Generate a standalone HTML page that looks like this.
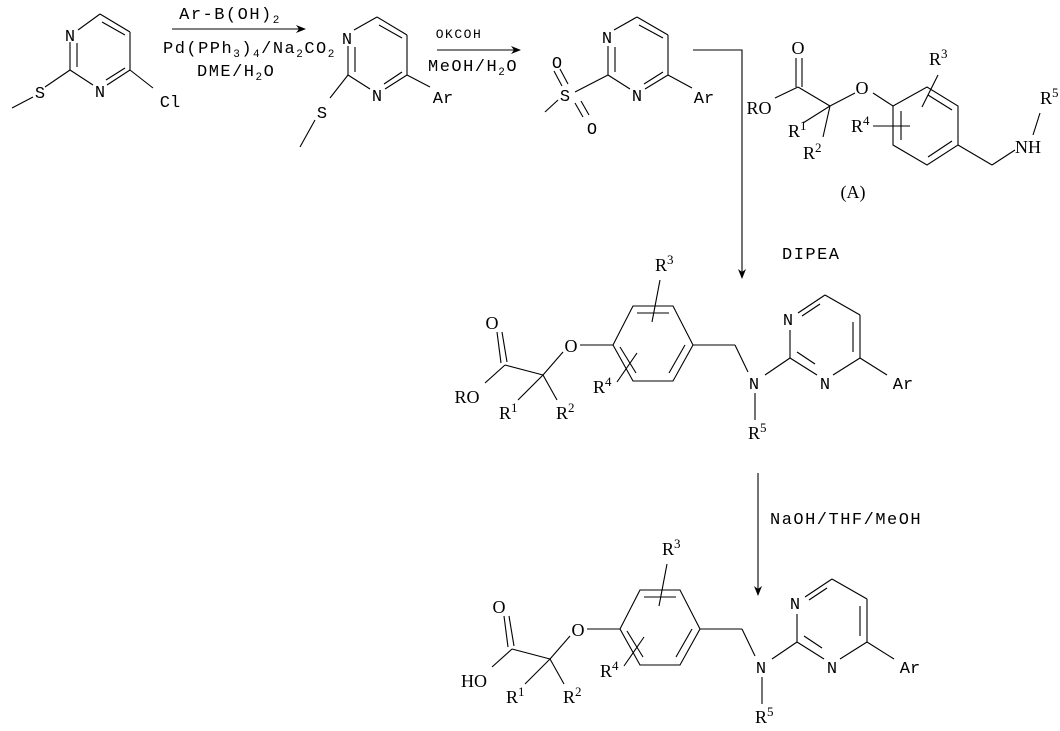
<!DOCTYPE html>
<html><head><meta charset="utf-8"><style>
html,body{margin:0;padding:0;background:#fff}
svg{display:block}
text{font-family:"Liberation Mono",monospace;font-size:17px;fill:#000}
.r{font-family:"Liberation Serif",serif;font-size:18px}
.s{font-size:11px}
.r .s{font-size:13px}
.lab{letter-spacing:1.5px}
line,polyline{stroke:#000;stroke-width:1.1;fill:none}
</style></head><body>
<svg width="1060" height="731" viewBox="0 0 1060 731" xmlns="http://www.w3.org/2000/svg">
<defs><marker id="ah" markerWidth="10" markerHeight="8" refX="9" refY="4" orient="auto" markerUnits="userSpaceOnUse"><path d="M0,0 L10,4 L0,8 L3,4z" fill="#000"/></marker></defs>

<!-- SM1 -->
<line x1="78" y1="30" x2="100" y2="14"/><line x1="100" y1="14" x2="130" y2="32"/><line x1="102" y1="22" x2="125" y2="35"/>
<line x1="130" y1="32" x2="130" y2="70"/><line x1="130" y1="70" x2="107" y2="85"/><line x1="125" y1="68" x2="106" y2="80"/>
<line x1="70" y1="70" x2="93" y2="85"/><line x1="70" y1="70" x2="70" y2="42"/><line x1="77" y1="67" x2="77" y2="43"/>
<line x1="70" y1="70" x2="45" y2="87"/><line x1="33" y1="97" x2="12" y2="108"/><line x1="130" y1="70" x2="153" y2="88"/>
<text x="70" y="41" text-anchor="middle">N</text><text x="100" y="97" text-anchor="middle">N</text>
<text x="40" y="98" text-anchor="middle">S</text><text x="170" y="107" text-anchor="middle">Cl</text>

<!-- arrow 1 -->
<line x1="172" y1="29" x2="305" y2="29" marker-end="url(#ah)"/>
<text x="230" y="19" text-anchor="middle" class="lab">Ar-B(OH)<tspan class="s" dy="4">2</tspan></text>
<text x="163" y="53" class="lab">Pd(PPh<tspan class="s" dy="4">3</tspan><tspan dy="-4">)</tspan><tspan class="s" dy="4">4</tspan><tspan dy="-4">/Na</tspan><tspan class="s" dy="4">2</tspan><tspan dy="-4">CO</tspan><tspan class="s" dy="4">2</tspan></text>
<text x="197" y="76" class="lab">DME/H<tspan class="s" dy="4">2</tspan><tspan dy="-4">O</tspan></text>

<!-- SM2 -->
<line x1="354" y1="30" x2="377" y2="17"/><line x1="377" y1="17" x2="407" y2="35"/><line x1="379" y1="25" x2="402" y2="38"/>
<line x1="407" y1="35" x2="407" y2="75"/><line x1="407" y1="75" x2="385" y2="89"/><line x1="402" y1="72" x2="384" y2="84"/>
<line x1="348" y1="75" x2="370" y2="89"/><line x1="348" y1="75" x2="348" y2="46"/><line x1="355" y1="72" x2="355" y2="47"/>
<line x1="348" y1="75" x2="330" y2="98"/><line x1="315" y1="120" x2="300" y2="147"/><line x1="407" y1="75" x2="430" y2="87"/>
<text x="347" y="44" text-anchor="middle">N</text><text x="377" y="101" text-anchor="middle">N</text>
<text x="322" y="118" text-anchor="middle">S</text><text x="443" y="103" text-anchor="middle">Ar</text>

<!-- arrow 2 -->
<line x1="437" y1="50" x2="520" y2="50" marker-end="url(#ah)"/>
<text x="459" y="38" text-anchor="middle" style="font-size:13px" class="lab">OKCOH</text>
<text x="428" y="71" class="lab">MeOH/H<tspan class="s" dy="4">2</tspan><tspan dy="-4">O</tspan></text>

<!-- SM3 -->
<line x1="614" y1="30" x2="637" y2="17"/><line x1="637" y1="17" x2="668" y2="35"/><line x1="639" y1="25" x2="663" y2="38"/>
<line x1="668" y1="35" x2="668" y2="75"/><line x1="668" y1="75" x2="645" y2="89"/><line x1="663" y1="72" x2="644" y2="84"/>
<line x1="608" y1="75" x2="630" y2="89"/><line x1="608" y1="75" x2="608" y2="46"/><line x1="615" y1="72" x2="615" y2="47"/>
<line x1="608" y1="75" x2="575" y2="92"/><line x1="558" y1="100" x2="545" y2="112"/><line x1="668" y1="75" x2="692" y2="88"/>
<line x1="562" y1="86" x2="554" y2="71"/><line x1="568" y1="84" x2="560" y2="69"/>
<line x1="575" y1="103" x2="583" y2="117"/><line x1="581" y1="101" x2="589" y2="115"/>
<text x="607" y="43" text-anchor="middle">N</text><text x="637" y="101" text-anchor="middle">N</text>
<text x="565" y="101" text-anchor="middle">S</text><text x="557" y="68" text-anchor="middle">O</text><text x="592" y="134" text-anchor="middle">O</text>
<text x="704" y="103" text-anchor="middle">Ar</text>

<!-- corner arrow -->
<polyline points="693,50 742,50 742,278" marker-end="url(#ah)"/>
<text x="782" y="259" class="lab">DIPEA</text>

<!-- compound A -->
<line x1="796" y1="58" x2="796" y2="87"/><line x1="802" y1="58" x2="802" y2="87"/>
<line x1="798" y1="87" x2="775" y2="98"/><line x1="798" y1="87" x2="830" y2="106"/>
<line x1="830" y1="106" x2="855" y2="93"/><line x1="873" y1="93" x2="893" y2="106"/>
<polygon points="893,106 927,87 958,106 958,145 927,165 893,145" fill="none" stroke="#000" stroke-width="1.1"/>
<line x1="928" y1="95" x2="952" y2="110"/><line x1="952" y1="141" x2="928" y2="157"/><line x1="901" y1="111" x2="901" y2="140"/>
<line x1="938" y1="75" x2="922" y2="107"/><line x1="873" y1="126" x2="910" y2="126"/>
<line x1="830" y1="106" x2="803" y2="123"/><line x1="830" y1="106" x2="823" y2="137"/>
<line x1="958" y1="145" x2="992" y2="165"/><line x1="992" y1="165" x2="1015" y2="150"/><line x1="1033" y1="135" x2="1040" y2="113"/>
<text x="798" y="54" text-anchor="middle" class="r">O</text>
<text x="759" y="114" text-anchor="middle" class="r">RO</text>
<text x="862" y="94" text-anchor="middle" class="r">O</text>
<text x="788" y="137" class="r">R<tspan class="s" dy="-7">1</tspan></text>
<text x="803" y="159" class="r">R<tspan class="s" dy="-7">2</tspan></text>
<text x="929" y="65" class="r">R<tspan class="s" dy="-7">3</tspan></text>
<text x="851" y="132" class="r">R<tspan class="s" dy="-7">4</tspan></text>
<text x="1028" y="153" text-anchor="middle" class="r">NH</text>
<text x="1040" y="104" class="r">R<tspan class="s" dy="-7">5</tspan></text>
<text x="853" y="198" text-anchor="middle" class="r">(A)</text>

<!-- middle product -->
<g>
<line x1="501" y1="363" x2="497" y2="332"/><line x1="507" y1="362" x2="502" y2="332"/>
<line x1="505" y1="365" x2="485" y2="383"/><line x1="505" y1="365" x2="543" y2="375"/>
<line x1="543" y1="375" x2="563" y2="352"/><line x1="580" y1="345" x2="613" y2="345"/>
<polygon points="613,345 633,306 673,306 693,345 673,381 633,381" fill="none" stroke="#000" stroke-width="1.1"/>
<line x1="637" y1="313" x2="669" y2="313"/><line x1="685" y1="345" x2="669" y2="373"/><line x1="620" y1="347" x2="636" y2="373"/>
<line x1="660" y1="280" x2="652" y2="322"/><line x1="617" y1="382" x2="637" y2="353"/>
<line x1="543" y1="375" x2="518" y2="400"/><line x1="543" y1="375" x2="557" y2="400"/>
<line x1="693" y1="345" x2="735" y2="345"/><line x1="735" y1="345" x2="748" y2="372"/>
<line x1="755" y1="393" x2="755" y2="420"/><line x1="765" y1="375" x2="790" y2="358"/>
<line x1="790" y1="358" x2="790" y2="330"/><line x1="798" y1="313" x2="825" y2="295"/><line x1="802" y1="316" x2="820" y2="304"/>
<line x1="825" y1="295" x2="860" y2="315"/><line x1="860" y1="315" x2="860" y2="358"/><line x1="853" y1="322" x2="853" y2="352"/>
<line x1="860" y1="358" x2="833" y2="375"/><line x1="790" y1="358" x2="817" y2="375"/><line x1="797" y1="352" x2="815" y2="364"/>
<line x1="860" y1="358" x2="887" y2="375"/>
<text x="788" y="325" text-anchor="middle">N</text><text x="825" y="389" text-anchor="middle">N</text>
<text x="754" y="389" text-anchor="middle">N</text><text x="903" y="389" text-anchor="middle">Ar</text>
<text x="571" y="352" text-anchor="middle" class="r">O</text>
<text x="492" y="329" text-anchor="middle" class="r">O</text>
<text x="499" y="419" class="r">R<tspan class="s" dy="-7">1</tspan></text>
<text x="556" y="419" class="r">R<tspan class="s" dy="-7">2</tspan></text>
<text x="655" y="271" class="r">R<tspan class="s" dy="-7">3</tspan></text>
<text x="593" y="393" class="r">R<tspan class="s" dy="-7">4</tspan></text>
<text x="748" y="439" class="r">R<tspan class="s" dy="-7">5</tspan></text>
</g>
<text x="467" y="403" text-anchor="middle" class="r">RO</text>

<!-- arrow 3 -->
<line x1="758" y1="473" x2="758" y2="595" marker-end="url(#ah)"/>
<text x="770" y="524" class="lab">NaOH/THF/MeOH</text>

<!-- bottom product -->
<g transform="translate(7,284)">
<line x1="501" y1="363" x2="497" y2="332"/><line x1="507" y1="362" x2="502" y2="332"/>
<line x1="505" y1="365" x2="485" y2="383"/><line x1="505" y1="365" x2="543" y2="375"/>
<line x1="543" y1="375" x2="563" y2="352"/><line x1="580" y1="345" x2="613" y2="345"/>
<polygon points="613,345 633,306 673,306 693,345 673,381 633,381" fill="none" stroke="#000" stroke-width="1.1"/>
<line x1="637" y1="313" x2="669" y2="313"/><line x1="685" y1="345" x2="669" y2="373"/><line x1="620" y1="347" x2="636" y2="373"/>
<line x1="660" y1="280" x2="652" y2="322"/><line x1="617" y1="382" x2="637" y2="353"/>
<line x1="543" y1="375" x2="518" y2="400"/><line x1="543" y1="375" x2="557" y2="400"/>
<line x1="693" y1="345" x2="735" y2="345"/><line x1="735" y1="345" x2="748" y2="372"/>
<line x1="755" y1="393" x2="755" y2="420"/><line x1="765" y1="375" x2="790" y2="358"/>
<line x1="790" y1="358" x2="790" y2="330"/><line x1="798" y1="313" x2="825" y2="295"/><line x1="802" y1="316" x2="820" y2="304"/>
<line x1="825" y1="295" x2="860" y2="315"/><line x1="860" y1="315" x2="860" y2="358"/><line x1="853" y1="322" x2="853" y2="352"/>
<line x1="860" y1="358" x2="833" y2="375"/><line x1="790" y1="358" x2="817" y2="375"/><line x1="797" y1="352" x2="815" y2="364"/>
<line x1="860" y1="358" x2="887" y2="375"/>
<text x="788" y="325" text-anchor="middle">N</text><text x="825" y="389" text-anchor="middle">N</text>
<text x="754" y="389" text-anchor="middle">N</text><text x="903" y="389" text-anchor="middle">Ar</text>
<text x="571" y="352" text-anchor="middle" class="r">O</text>
<text x="492" y="329" text-anchor="middle" class="r">O</text>
<text x="499" y="419" class="r">R<tspan class="s" dy="-7">1</tspan></text>
<text x="556" y="419" class="r">R<tspan class="s" dy="-7">2</tspan></text>
<text x="655" y="271" class="r">R<tspan class="s" dy="-7">3</tspan></text>
<text x="593" y="393" class="r">R<tspan class="s" dy="-7">4</tspan></text>
<text x="748" y="439" class="r">R<tspan class="s" dy="-7">5</tspan></text>
<text x="467" y="403" text-anchor="middle" class="r">HO</text>
</g>
</svg>
</body></html>
